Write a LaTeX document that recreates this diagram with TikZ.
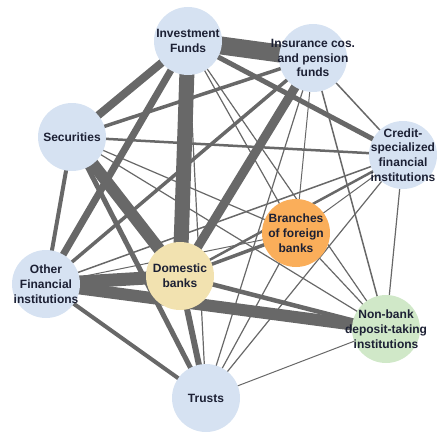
\documentclass[tikz,border=0pt]{standalone}
\usepackage{fontspec}
\setmainfont{Liberation Sans}
\usetikzlibrary{backgrounds}
\definecolor{bleu}{RGB}{214,226,242}
\definecolor{orange}{RGB}{250,174,90}
\definecolor{jaune}{RGB}{242,226,176}
\definecolor{vert}{RGB}{208,232,200}
\definecolor{gris}{RGB}{104,104,104}
\definecolor{encre}{RGB}{28,32,52}
\tikzset{
  bulle/.style={circle,minimum size=68pt,inner sep=0pt,fill=bleu},
  etiq/.style={align=center,font=\fontsize{12}{14.8}\selectfont\bfseries,text=encre,inner sep=0pt},
  lien/.style={draw=gris}
}
\begin{document}
\begin{tikzpicture}[x=1pt,y=1pt]
  \useasboundingbox (0,0) rectangle (438,432);
  % les noeuds
  \node[bulle] (IF) at (188,391) {};
  \node[bulle] (IN) at (313,374) {};
  \node[bulle] (SE) at (72,295) {};
  \node[bulle] (CR) at (403,277) {};
  \node[bulle,fill=orange] (BR) at (296,199) {};
  \node[bulle] (OF) at (46,148) {};
  \node[bulle,fill=jaune] (DB) at (180,156) {};
  \node[bulle,fill=vert] (NB) at (386,103) {};
  \node[bulle] (TR) at (206,34) {};
  \node[etiq] at (IF) {Investment\\Funds};
  \node[etiq] at (IN) {Insurance cos.\\and pension\\funds};
  \node[etiq] at (SE) {Securities};
  \node[etiq] at (CR) {Credit-\\specialized\\financial\\institutions};
  \node[etiq] at (BR) {Branches\\of foreign\\banks};
  \node[etiq] at (OF) {Other\\Financial\\institutions};
  \node[etiq] at (DB) {Domestic\\banks};
  \node[etiq] at (NB) {Non-bank\\deposit-taking\\institutions};
  \node[etiq] at (TR) {Trusts};
  % les liens (epaisseur en pt)
  \begin{scope}[on background layer]
    \foreach \a/\b/\w in {IF/IN/18,IF/SE/8,IF/CR/5,IF/BR/1.2,IF/OF/7,IF/DB/15,IF/NB/1.2,IF/TR/1.2,
      IN/SE/3.5,IN/CR/1.5,IN/BR/1,IN/OF/3.5,IN/DB/9,IN/NB/1.5,IN/TR/1.2,
      SE/CR/2.5,SE/BR/1.2,SE/OF/4,SE/DB/12,SE/NB/1.2,SE/TR/5,
      CR/BR/1,CR/OF/1.5,CR/DB/2.5,CR/NB/1.2,CR/TR/1.2,
      BR/OF/1,BR/DB/3.5,BR/NB/1.2,BR/TR/1.2,
      OF/DB/13,OF/NB/12,OF/TR/4,DB/NB/4.5,DB/TR/6,NB/TR/1}
      \draw[lien,line width=\w pt] (\a.center) -- (\b.center);
  \end{scope}
\end{tikzpicture}
\end{document}
